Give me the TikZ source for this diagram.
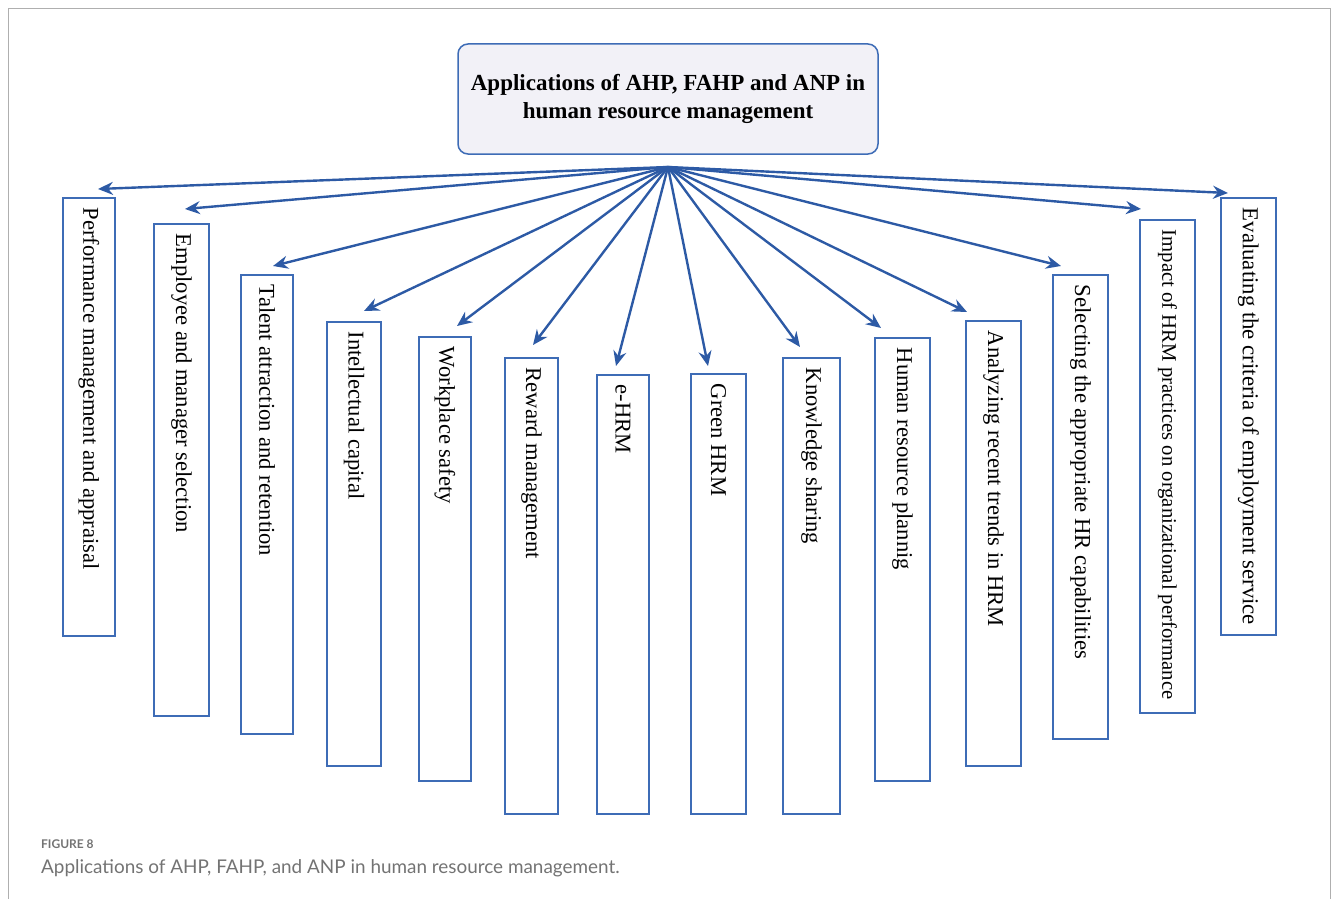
\documentclass[tikz,border=0pt]{standalone}
\usepackage{fontspec}
\setmainfont{Liberation Serif}
\newfontfamily\capfont{Lato}
\usetikzlibrary{arrows.meta}
\definecolor{boxblue}{RGB}{62,108,182}
\definecolor{arrblue}{RGB}{45,90,165}
\definecolor{titlefill}{RGB}{242,241,247}
\definecolor{framegray}{RGB}{175,175,175}
\definecolor{capgray}{RGB}{115,115,115}
\begin{document}
\begin{tikzpicture}[x=1pt,y=-1pt,
  item/.style={draw=boxblue, line width=1.5pt, rotate=-90, anchor=west,
    inner xsep=10pt, inner ysep=0pt},
  conn/.style={draw=arrblue, line width=2.4pt,
    -{Stealth[length=15pt,width=13pt,inset=5pt]}},
  titlebox/.style={draw=boxblue, fill=titlefill, rounded corners=10pt,
    line width=1.5pt, align=center,
    font=\bfseries\fontsize{23}{28}\selectfont},
  captext/.style={anchor=base west, inner sep=0pt, text=capgray}]
\useasboundingbox (0,0) rectangle (1331,899);
\draw[framegray, line width=1pt] (8,899) -- (8,9) -- (1330,9) -- (1330,899);

\node[titlebox, minimum width=420pt, minimum height=110pt] (title) at (668,99)
  {Applications of AHP, FAHP and ANP in\\ human resource management};
\coordinate (hub) at (668,167);

\foreach \n/\xl/\xr/\yt/\yb/\tx/\ty/\fs/\t in {
  1/63/115/197/635/98/189/22.6/Performance management and appraisal,
  2/154/209/223/715/185/209/22.6/Employee and manager selection,
  3/241/293/274/733/273/266/22.6/Talent attraction and retention,
  4/327/381/321/765/364/311/22.6/Intellectual capital,
  5/419/471/336/780/457/326/22.6/Workplace safety,
  6/505/558/357/813/533/345/22.6/Reward management,
  7/597/649/374/813/616/366/22.6/e-HRM,
  8/691/746/373/813/708/366/22.6/Green HRM,
  9/783/840/357/813/800/347/22.6/Knowledge sharing,
  10/875/930/337/780/881/328/22.6/Human resource plannig,
  11/966/1021/320/765/967/312/22.6/Analyzing recent trends in HRM,
  12/1053/1108/274/738/1061/266/22.8/Selecting the appropriate HR capabilities,
  13/1140/1195/219/712/1141/209/20.7/Impact of HRM practices on organizational performance,
  14/1221/1276/197/634/1228/193/22.8/Evaluating the criteria of employment service}{
  \pgfmathsetmacro\H{\yb-\yt}
  \pgfmathsetmacro\W{\xr-\xl}
  \pgfmathsetmacro\xc{(\xl+\xr)/2}
  \pgfmathsetmacro\tw{\H-20}
  \pgfmathsetmacro\dx{\tx-\xc}
  \pgfmathsetmacro\dy{\ty-\yt}
  \node[item, minimum width=\H pt, minimum height=\W pt,
        font=\fontsize{\fs}{26}\selectfont]
    (b\n) at (\xc,\yt) {\makebox[\tw pt][l]{\t}};
  \draw[conn] (hub) -- ([shift={(\dx,\dy)}]b\n.west);
}

\node[captext, font=\capfont\bfseries\fontsize{12}{15}\selectfont] (fig) at (41,848) {FIGURE 8};
\node[captext, font=\capfont\fontsize{18.9}{21}\selectfont] (cap) at (41,873)
  {Applications of AHP, FAHP, and ANP in human resource management.};
\end{tikzpicture}
\end{document}
